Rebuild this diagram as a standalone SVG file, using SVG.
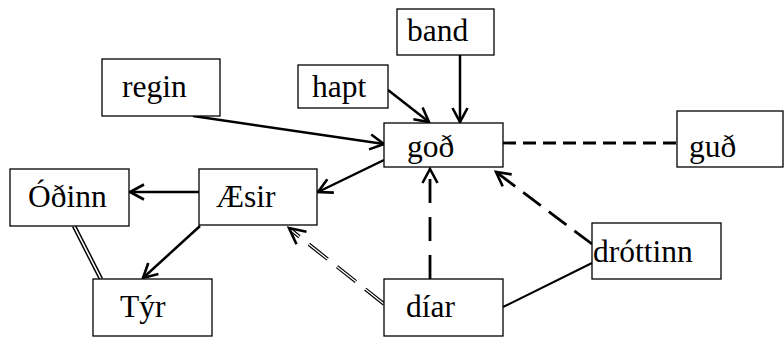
<svg xmlns="http://www.w3.org/2000/svg" width="784" height="338" viewBox="0 0 784 338">
<defs>
<style>
.box{fill:#fff;stroke:#000;stroke-width:1.3}
.lbl{font-family:"Liberation Serif","Times New Roman",serif;font-size:31.5px;fill:#000}
.ln{fill:none;stroke:#000;stroke-width:2.5}
.dash{fill:none;stroke:#000;stroke-width:2.8}
</style>
<marker id="arr" markerUnits="userSpaceOnUse" markerWidth="22" markerHeight="22" refX="16" refY="9" orient="auto" overflow="visible">
<path d="M2,1.5 L16,9 L2,16.5" fill="none" stroke="#000" stroke-width="2.6"/>
</marker>
</defs>
<rect width="784" height="338" fill="#fff"/>
<g id="connectors">
<line class="ln" x1="193" y1="116" x2="384" y2="144" marker-end="url(#arr)"/>
<line class="ln" x1="388" y1="90" x2="429" y2="122" marker-end="url(#arr)"/>
<line class="ln" x1="460" y1="55" x2="460" y2="122" marker-end="url(#arr)"/>
<line class="dash" x1="503" y1="143" x2="677" y2="143" stroke-dasharray="13,7"/>
<line class="ln" x1="384" y1="160" x2="318" y2="192" marker-end="url(#arr)"/>
<line class="ln" x1="199" y1="192" x2="130" y2="192" marker-end="url(#arr)"/>
<line class="ln" x1="200" y1="226" x2="143" y2="278" marker-end="url(#arr)"/>
<line x1="74" y1="226" x2="101" y2="279" stroke="#000" stroke-width="4.5"/>
<line x1="74" y1="226" x2="101" y2="279" stroke="#fff" stroke-width="1.6"/>
<line x1="384" y1="304" x2="291" y2="230" stroke="#000" stroke-width="3.6" stroke-dasharray="24,12"/>
<line x1="384" y1="304" x2="291" y2="230" stroke="#fff" stroke-width="1.3" stroke-dasharray="24,12"/>
<path d="M296.5,244.2 L289,228 L306.5,231.8" fill="none" stroke="#000" stroke-width="2.6"/>
<line class="dash" x1="430" y1="279" x2="430" y2="169" stroke-dasharray="24,14" marker-end="url(#arr)"/>
<line class="dash" x1="592" y1="244" x2="496" y2="172" stroke-dasharray="22,10" marker-end="url(#arr)"/>
<line x1="503" y1="307" x2="592" y2="263" stroke="#000" stroke-width="2"/>
</g>
<g id="band"><rect class="box" x="397" y="9" width="97" height="46"/><text class="lbl" x="407" y="41">band</text></g>
<g id="hapt"><rect class="box" x="298" y="65" width="90" height="43"/><text class="lbl" x="312" y="97">hapt</text></g>
<g id="regin"><rect class="box" x="102" y="59" width="118" height="57"/><text class="lbl" x="122" y="97">regin</text></g>
<g id="god"><rect class="box" x="384" y="123" width="119" height="44"/><text class="lbl" x="407" y="157">goð</text></g>
<g id="gud"><rect class="box" x="677" y="111" width="106" height="56"/><text class="lbl" x="689" y="157">guð</text></g>
<g id="odinn"><rect class="box" x="10" y="169" width="119" height="57"/><text class="lbl" x="28" y="207">Óðinn</text></g>
<g id="aesir"><rect class="box" x="199" y="169" width="118" height="56"/><text class="lbl" x="216" y="207">Æsir</text></g>
<g id="tyr"><rect class="box" x="93" y="279" width="119" height="57"/><text class="lbl" x="120" y="317">Týr</text></g>
<g id="diar"><rect class="box" x="384" y="279" width="119" height="57"/><text class="lbl" x="406" y="317">díar</text></g>
<g id="drottinn"><rect class="box" x="592" y="223" width="129" height="56"/><text class="lbl" x="593" y="262">dróttinn</text></g>
</svg>
